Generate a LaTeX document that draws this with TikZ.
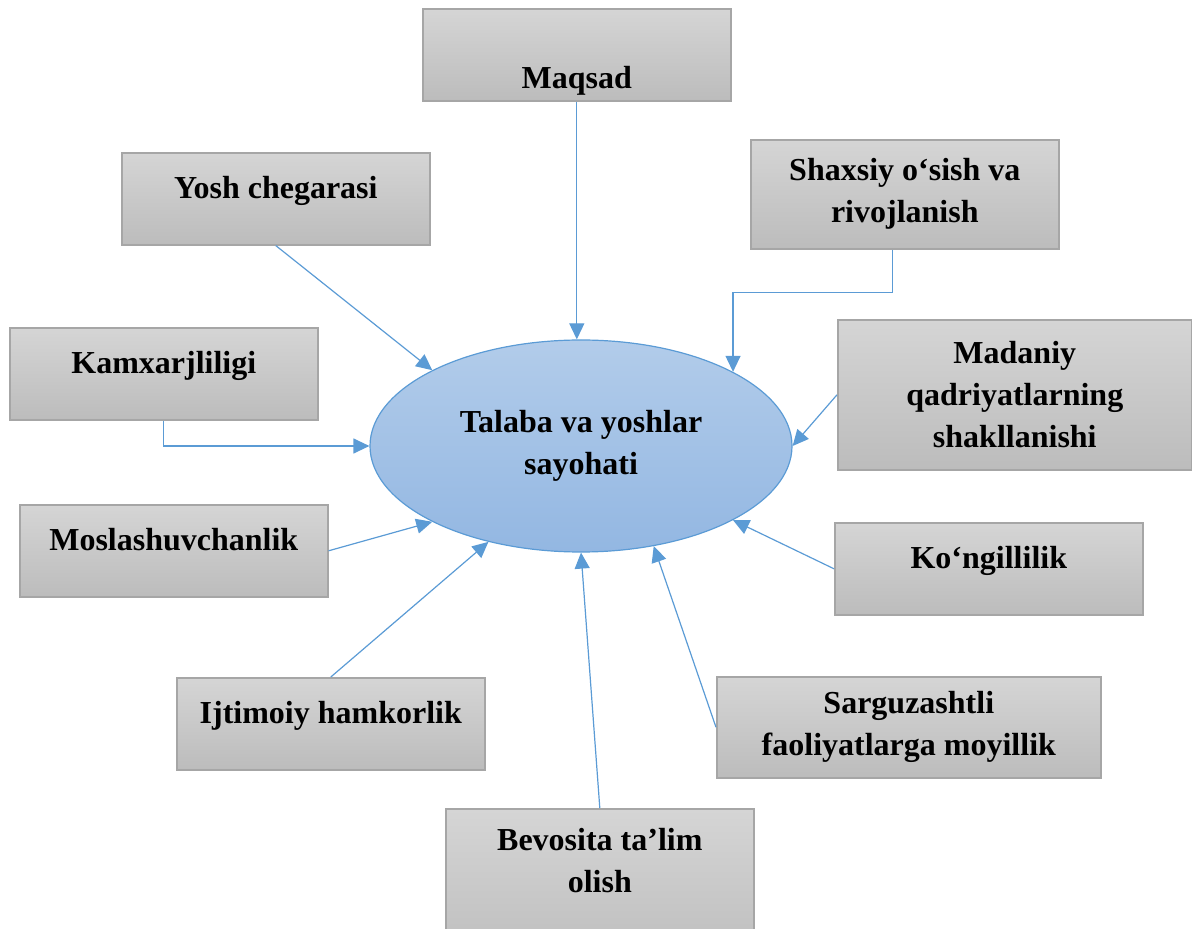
\documentclass[tikz,border=0pt]{standalone}
\usepackage{fontspec}
\setmainfont{Liberation Serif}
\usepackage{xcolor}
\usepackage{tikz}
\usetikzlibrary{shapes.geometric, arrows.meta}

\definecolor{boxtop}{HTML}{D5D5D5}
\definecolor{boxbot}{HTML}{BCBCBC}
\definecolor{boxline}{HTML}{A6A6A6}
\definecolor{hubtop}{HTML}{B2CCEA}
\definecolor{hubbot}{HTML}{93B7E2}
\definecolor{linkblue}{HTML}{5B9BD5}

\tikzset{
	box/.style={draw=boxline, line width=0.8pt, top color=boxtop, bottom color=boxbot,
		minimum width=154pt, anchor=north west, align=center,
		font=\bfseries\fontsize{16}{21}\selectfont},
	onebox/.style={box, inner ysep=0pt, text height=23pt, text depth=23pt},
	hub/.style={ellipse, draw=linkblue, line width=0.6pt, top color=hubtop, bottom color=hubbot,
		minimum width=211pt, minimum height=106pt, inner sep=0pt, align=center,
		font=\bfseries\fontsize{16}{21}\selectfont},
	link/.style={draw=linkblue, line width=0.6pt, -{Triangle[length=8pt,width=7.5pt]}}
}

\begin{document}
\begin{tikzpicture}[x=0.5pt, y=-0.5pt]
	\useasboundingbox (0,0) rectangle (1192,929);
		\node (hub) at (581,446) [hub] {Talaba va yoshlar\\sayohati};

		\node (maqsad) at (422,8) [box, inner ysep=0pt, text height=40pt, text depth=6pt] {Maqsad};
		\node (yosh) at (121,152) [onebox] {Yosh chegarasi};
		\node (shaxsiy) at (750,139) [box, minimum height=54.5pt] {Shaxsiy o‘sish va\\rivojlanish};
		\node (kamx) at (9,327) [onebox] {Kamxarjliligi};
    \node (madaniy) at (837,319) [box, minimum width=177pt, minimum height=75pt] {Madaniy\\qadriyatlarning\\shakllanishi};
		\node (mosl) at (19,504) [onebox] {Moslashuvchanlik};
		\node (kongil) at (834,522) [onebox] {Ko‘ngillilik};
		\node (ijtimoiy) at (176,677) [onebox] {Ijtimoiy hamkorlik};
    \node (sargu) at (716,676) [box, minimum width=192pt, minimum height=50.5pt] {Sarguzashtli\\faoliyatlarga moyillik};
		\node (bevosita) at (445,808) [box, inner ysep=0pt, text height=42pt, text depth=40pt] {Bevosita ta’lim\\olish};

		\draw [link] (maqsad.south) -- (maqsad.south |- hub.north);
		\draw [link] (yosh.south) -- (hub.153);
		\draw [link] ([xshift=-6pt]shaxsiy.south) -- ++(0,43) -| (hub.26);
		\draw [link] (kamx.south) |- (hub.west);
		\draw [link] (madaniy.west) -- (hub.east);
		\draw [link] (mosl.east) -- (hub.207);
		\draw [link] (kongil.west) -- (hub.334);
		\draw [link] (ijtimoiy.north) -- (hub.226);
		\draw [link] (sargu.west) -- (hub.306);
		\draw [link] (bevosita.north) -- (hub.south);
	\end{tikzpicture}
\end{document}
